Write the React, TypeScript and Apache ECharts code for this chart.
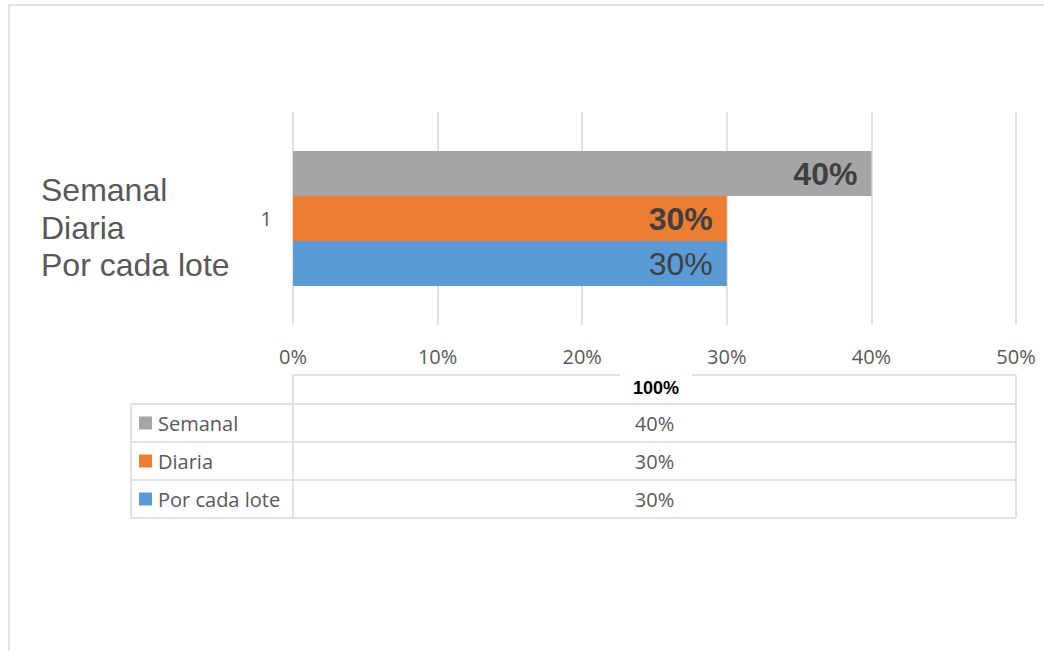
import React, { useEffect, useRef } from "react";
import * as echarts from "echarts";

const categories = ["1"];
const seriesNames = ["Semanal", "Diaria", "Por cada lote"];
const seriesValues = [0.4, 0.3, 0.3];
const seriesColors = ["#A5A5A5", "#ED7D31", "#5B9BD5"];
const seriesLabelBold = [true, true, false];
const tableHeader = "100%";
const axisMin = 0;
const axisMax = 0.5;
const axisInterval = 0.1;

const pct = (v: number) => `${Math.round(v * 100)}%`;

export default function App() {
  const ref = useRef<HTMLDivElement>(null);

  useEffect(() => {
    if (!ref.current) return;
    const chart = echarts.init(ref.current, undefined, { renderer: "svg" });

    const gridLeft = 293;
    const gridRight = 1016;
    const tableTop = 375;
    const rowTops = [404, 442, 480, 518];
    const tableLeft = 131;
    const lineStyle = { stroke: "#D9D9D9", lineWidth: 1.5 };

    const graphic: any[] = [];
    // outer frame
    graphic.push({
      type: "rect",
      shape: { x: 9, y: 5, width: 1200, height: 800 },
      style: { fill: "none", stroke: "#D9D9D9", lineWidth: 1.5 },
      silent: true,
    });
    // left multi-line category label
    const leftY = [190, 227.5, 265];
    seriesNames.forEach((n, i) => {
      graphic.push({
        type: "text",
        x: 41,
        y: leftY[i],
        style: {
          text: n,
          fontFamily: "Liberation Sans",
          fontSize: 32,
          fill: "#595959",
          verticalAlign: "middle",
          align: "left",
        },
      });
    });
    // data table lines
    graphic.push({ type: "line", shape: { x1: gridLeft, y1: tableTop, x2: gridRight, y2: tableTop }, style: lineStyle });
    rowTops.forEach((y) => {
      graphic.push({ type: "line", shape: { x1: tableLeft, y1: y, x2: gridRight, y2: y }, style: lineStyle });
    });
    graphic.push({ type: "line", shape: { x1: gridLeft, y1: tableTop, x2: gridLeft, y2: rowTops[3] }, style: lineStyle });
    graphic.push({ type: "line", shape: { x1: gridRight, y1: tableTop, x2: gridRight, y2: rowTops[3] }, style: lineStyle });
    graphic.push({ type: "line", shape: { x1: tableLeft, y1: rowTops[0], x2: tableLeft, y2: rowTops[3] }, style: lineStyle });
    // header label
    graphic.push({
      type: "rect",
      shape: { x: 620, y: 371, width: 72, height: 32 },
      style: { fill: "#FFFFFF" },
    });
    graphic.push({
      type: "text",
      x: 656,
      y: 388,
      style: {
        text: tableHeader,
        fontFamily: "Liberation Sans",
        fontWeight: "bold",
        fontSize: 18,
        fill: "#000000",
        align: "center",
        verticalAlign: "middle",
      },
    });
    // rows
    seriesNames.forEach((n, i) => {
      const cy = (rowTops[i] + rowTops[i + 1]) / 2;
      graphic.push({
        type: "rect",
        shape: { x: 139, y: cy - 6.5, width: 13, height: 13 },
        style: { fill: seriesColors[i] },
      });
      graphic.push({
        type: "text",
        x: 158,
        y: cy,
        style: {
          text: n,
          fontFamily: "Open Sans",
          fontSize: 20,
          fill: "#595959",
          align: "left",
          verticalAlign: "middle",
        },
      });
      graphic.push({
        type: "text",
        x: (gridLeft + gridRight) / 2,
        y: cy,
        style: {
          text: pct(seriesValues[i]),
          fontFamily: "Open Sans",
          fontSize: 20,
          fill: "#595959",
          align: "center",
          verticalAlign: "middle",
        },
      });
    });

    const option: any = {
      animation: false,
      grid: { left: gridLeft, right: 1044 - gridRight, top: 112, bottom: 651 - 325, containLabel: false },
      xAxis: {
        type: "value",
        min: axisMin,
        max: axisMax,
        interval: axisInterval,
        axisLine: { show: false },
        axisTick: { show: false },
        splitLine: { lineStyle: { color: "#D9D9D9", width: 1.5 } },
        axisLabel: {
          formatter: (v: number) => pct(v),
          fontFamily: "Open Sans",
          fontSize: 20,
          color: "#595959",
          margin: 21,
        },
      },
      yAxis: {
        type: "category",
        data: categories,
        inverse: true,
        axisLine: { show: false },
        axisTick: { show: false },
        splitLine: { show: false },
        axisLabel: {
          fontFamily: "Open Sans",
          fontSize: 20,
          color: "#595959",
          margin: 21,
        },
      },
      graphic,
      series: seriesNames.map((n, i) => ({
        type: "bar",
        name: n,
        data: [seriesValues[i]],
        barWidth: 45,
        barGap: "0%",
        itemStyle: { color: seriesColors[i] },
        label: {
          show: true,
          position: "insideRight",
          distance: 14,
          formatter: (p: any) => pct(p.value),
          fontFamily: "Liberation Sans",
          fontSize: 32,
          fontWeight: seriesLabelBold[i] ? "bold" : "normal",
          color: "#404040",
        },
      })),
    };
    chart.setOption(option);
    return () => chart.dispose();
  }, []);

  return (
    <div
      ref={ref}
      style={{ position: "absolute", left: 0, top: 0, width: 1044, height: 651, background: "#fff" }}
    />
  );
}
